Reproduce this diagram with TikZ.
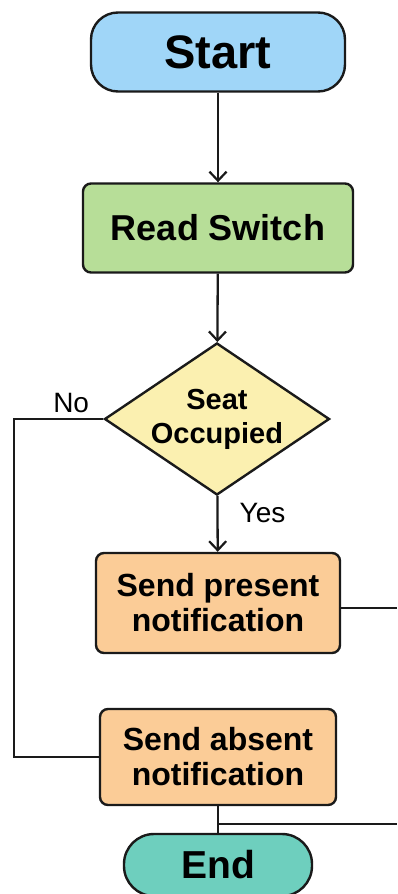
\documentclass[tikz,border=0pt]{standalone}
\usepackage{fontspec}
\setmainfont{Liberation Sans}
\usetikzlibrary{arrows.meta,shapes.geometric}

\definecolor{startblue}{HTML}{A0D6F8}
\definecolor{readgreen}{HTML}{B7DE98}
\definecolor{askyellow}{HTML}{FBF0B0}
\definecolor{sendpeach}{HTML}{FBCC97}
\definecolor{endteal}{HTML}{6ECFBE}
\definecolor{inkline}{HTML}{1A1A1A}

\begin{document}
\begin{tikzpicture}[x=1pt,y=-1pt]
    \tikzset{box/.style = {shape=rectangle, draw=inkline, line width=2.4pt, rounded corners=8pt, align=center, inner sep=0pt, font=\bfseries}}
    \tikzset{pill/.style = {box, rounded corners=27pt}}
    \tikzset{ask/.style = {shape=diamond, draw=inkline, line width=2.4pt, fill=askyellow, aspect=1.48, inner sep=0pt, minimum width=225pt, minimum height=152pt, align=center, font=\bfseries\fontsize{29}{34}\selectfont}}
    \tikzset{edge/.style = {draw=inkline, line width=2.3pt}}
    \tikzset{arr/.style = {edge, -{Straight Barb[length=9pt,width=17pt,line width=2.2pt]}}}
    \tikzset{tag/.style = {font=\fontsize{28}{30}\selectfont, inner sep=1pt}}

    \useasboundingbox[fill=white] (0,0) rectangle (397,894);

    % nodes
    \node[pill, fill=startblue, minimum width=254pt, minimum height=79pt, font=\bfseries\fontsize{47}{50}\selectfont] (start) at (218,52) {Start};
    \node[box, fill=readgreen, minimum width=270pt, minimum height=89pt, font=\bfseries\fontsize{36}{40}\selectfont] (read) at (218,228) {Read Switch};
    \node[ask] (seat) at (217,419) {Seat\\Occupied};
    \node[box, fill=sendpeach, minimum width=244pt, minimum height=100pt, font=\bfseries\fontsize{32}{35}\selectfont] (present) at (218,603) {Send present\\notification};
    \node[box, fill=sendpeach, minimum width=236pt, minimum height=96pt, font=\bfseries\fontsize{32}{35}\selectfont] (absent) at (218,757) {Send absent\\notification};
    \node[pill, fill=endteal, rounded corners=30pt, minimum width=188pt, minimum height=62pt, font=\bfseries\fontsize{39}{42}\selectfont] (end) at (218,865) {End};

    \coordinate (noturn) at (14,419);
    \coordinate (join) at (218,824);
    \coordinate (outpresent) at (397,608);
    \coordinate (outend) at (397,824);

    % edges
    \draw[arr] (start) -- (read);
    \draw[arr] (read) -- (seat);
    \draw[arr] (seat) -- node[tag, pos=0.3, right=20pt] {Yes} (present);
    \draw[edge] (seat.west) -- node[tag, pos=0.36, above=4pt] {No} (noturn) |- (absent.west);
    \draw[edge] (present.east |- outpresent) -- (outpresent);
    \draw[edge] (absent) -- (end);
    \draw[edge] (join) -- (outend);
\end{tikzpicture}
\end{document}
